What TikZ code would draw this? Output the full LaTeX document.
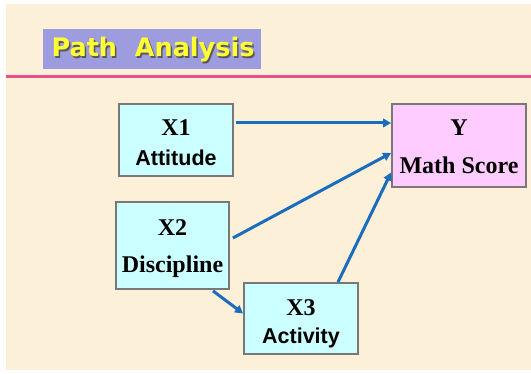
\documentclass[tikz,border=0pt]{standalone}
\usepackage{fontspec}
\setmainfont{Liberation Serif}
\setsansfont{Liberation Sans}
\newfontfamily\titlefont{DejaVu Sans}
\usetikzlibrary{arrows.meta}
\definecolor{slidebg}{RGB}{252,240,216}
\definecolor{titlebox}{RGB}{156,156,222}
\definecolor{titletext}{RGB}{255,255,51}
\definecolor{rule}{RGB}{230,80,140}
\definecolor{arrowblue}{RGB}{26,108,190}
\definecolor{boxcyan}{RGB}{204,255,255}
\definecolor{boxpink}{RGB}{255,204,255}
\definecolor{boxedge}{RGB}{120,120,120}
\tikzset{
  varbox/.style={draw=boxedge, line width=1.8pt, inner sep=0pt},
  serifvar/.style={font=\rmfamily\bfseries\fontsize{24}{26}\selectfont, inner sep=0pt},
  sansvar/.style={font=\sffamily\bfseries\fontsize{21.5}{23}\selectfont, inner sep=0pt},
  path arrow/.style={draw=arrowblue, line width=3pt,
    -{Triangle[length=8pt,width=8.5pt]}},
  titletype/.style={font=\titlefont\bfseries\fontsize{25.5}{28}\selectfont, inner sep=0pt},
}
\begin{document}
\begin{tikzpicture}[x=1pt,y=-1pt]
  % page and slide background
  \fill[white] (0,0) rectangle (531,374);
  \useasboundingbox (0,0) rectangle (531,374);
  \fill[slidebg] (6,4) rectangle (531,370);

  % title
  \node[fill=titlebox, minimum width=218pt, minimum height=40pt, inner sep=0pt]
    (titlebg) at (152,49) {};
  \node[titletype, text=black!65] at (154.5,51.5) {Path\ \ Analysis};
  \node[titletype, text=titletext] (title) at (153,50) {Path\ \ Analysis};
  \draw[rule, line width=2.6pt] (6,76.5) -- (531,76.5);

  % variable boxes
  \node[varbox, fill=boxcyan, minimum width=114pt, minimum height=72pt] (x1) at (176,140) {};
  \node[varbox, fill=boxcyan, minimum width=113pt, minimum height=87pt] (x2) at (172.5,245.5) {};
  \node[varbox, fill=boxcyan, minimum width=114pt, minimum height=71pt] (x3) at (301,318.5) {};
  \node[varbox, fill=boxpink, minimum width=134pt, minimum height=83pt] (y) at (459,145.5) {};

  % box labels
  \node[serifvar] (x1a) at (176,128) {X1};
  \node[sansvar]  (x1b) at (176,158) {Attitude};
  \node[serifvar] (x2a) at (172.5,228) {X2};
  \node[serifvar] (x2b) at (172.5,267) {Discipline};
  \node[serifvar] (x3a) at (301,308) {X3};
  \node[sansvar]  (x3b) at (301,338) {Activity};
  \node[serifvar] (ya)  at (459,128) {Y};
  \node[serifvar] (yb)  at (459,165) {Math Score};

  % paths
  \draw[path arrow] ([xshift=2pt,yshift=17pt]x1.east) -- ([yshift=22.5pt]y.west);
  \draw[path arrow] ([xshift=3pt,yshift=7.5pt]x2.east) -- ([yshift=-7.5pt]y.west);
  \draw[path arrow] ([xshift=37pt]x3.north) -- ([yshift=-27pt]y.west);
  \draw[path arrow] ([xshift=40.5pt,yshift=-1pt]x2.south) -- ([yshift=5pt]x3.west);
\end{tikzpicture}
\end{document}
